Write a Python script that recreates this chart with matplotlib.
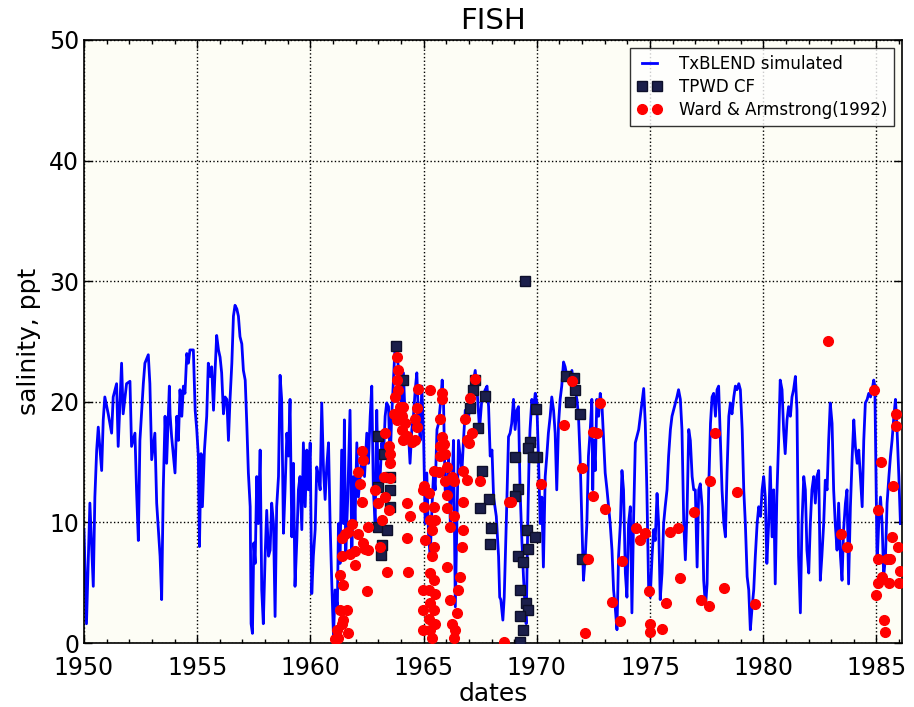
import matplotlib
matplotlib.use("Agg")
import matplotlib.pyplot as plt
from matplotlib.ticker import MultipleLocator

# ---------------------------------------------------------
# TxBLEND simulated salinity (decimal year, ppt)
# ---------------------------------------------------------
sim_year = [
    1950.00, 1950.11, 1950.26, 1950.41, 1950.48, 1950.56, 1950.63, 1950.78, 1950.85, 1950.92,
    1951.07, 1951.22, 1951.29, 1951.44, 1951.51, 1951.66, 1951.73, 1951.88, 1952.03, 1952.10,
    1952.25, 1952.32, 1952.40, 1952.47, 1952.62, 1952.69, 1952.84, 1952.91, 1952.99, 1953.13,
    1953.21, 1953.36, 1953.43, 1953.50, 1953.58, 1953.65, 1953.77, 1953.80, 1953.87, 1954.02,
    1954.10, 1954.17, 1954.24, 1954.32, 1954.39, 1954.46, 1954.54, 1954.61, 1954.68, 1954.83,
    1954.91, 1954.98, 1955.05, 1955.10, 1955.17, 1955.23, 1955.32, 1955.42, 1955.49, 1955.57,
    1955.64, 1955.72, 1955.79, 1955.86, 1955.94, 1956.01, 1956.08, 1956.16, 1956.23, 1956.31,
    1956.38, 1956.45, 1956.53, 1956.60, 1956.67, 1956.75, 1956.82, 1956.89, 1956.97, 1957.04,
    1957.12, 1957.19, 1957.26, 1957.34, 1957.38, 1957.44, 1957.50, 1957.56, 1957.63, 1957.70,
    1957.78, 1957.85, 1957.92, 1958.00, 1958.07, 1958.15, 1958.22, 1958.29, 1958.37, 1958.44,
    1958.51, 1958.59, 1958.66, 1958.73, 1958.81, 1958.88, 1958.96, 1959.03, 1959.10, 1959.18,
    1959.25, 1959.32, 1959.40, 1959.47, 1959.54, 1959.62, 1959.69, 1959.77, 1959.84, 1959.91,
    1959.99, 1960.06, 1960.13, 1960.21, 1960.28, 1960.36, 1960.43, 1960.50, 1960.58, 1960.65,
    1960.72, 1960.80, 1960.87, 1960.94, 1961.02, 1961.09, 1961.19, 1961.24, 1961.31, 1961.38,
    1961.46, 1961.50, 1961.56, 1961.65, 1961.75, 1961.83, 1961.90, 1961.97, 1962.05, 1962.12,
    1962.27, 1962.39, 1962.49, 1962.56, 1962.64, 1962.71, 1962.78, 1962.86, 1962.93, 1963.00,
    1963.08, 1963.15, 1963.23, 1963.30, 1963.37, 1963.45, 1963.52, 1963.59, 1963.74, 1963.89,
    1964.04, 1964.11, 1964.18, 1964.26, 1964.33, 1964.40, 1964.48, 1964.55, 1964.63, 1964.70,
    1964.77, 1964.85, 1964.92, 1965.00, 1965.07, 1965.14, 1965.22, 1965.29, 1965.37, 1965.44,
    1965.51, 1965.59, 1965.66, 1965.76, 1965.82, 1965.88, 1965.95, 1966.03, 1966.10, 1966.18,
    1966.25, 1966.32, 1966.40, 1966.47, 1966.54, 1966.69, 1966.76, 1966.84, 1966.99, 1967.13,
    1967.28, 1967.38, 1967.47, 1967.57, 1967.72, 1967.80, 1967.87, 1967.94, 1968.02, 1968.09,
    1968.21, 1968.31, 1968.36, 1968.41, 1968.50, 1968.56, 1968.65, 1968.75, 1968.82, 1968.89,
    1968.97, 1969.04, 1969.12, 1969.19, 1969.26, 1969.34, 1969.41, 1969.48, 1969.53, 1969.60,
    1969.66, 1969.70, 1969.78, 1969.85, 1969.93, 1970.00, 1970.07, 1970.15, 1970.22, 1970.29,
    1970.37, 1970.44, 1970.51, 1970.59, 1970.66, 1970.74, 1970.81, 1970.88, 1970.96, 1971.03,
    1971.10, 1971.18, 1971.25, 1971.33, 1971.40, 1971.47, 1971.55, 1971.62, 1971.69, 1971.77,
    1971.84, 1971.91, 1971.99, 1972.06, 1972.14, 1972.21, 1972.28, 1972.36, 1972.43, 1972.47,
    1972.51, 1972.58, 1972.65, 1972.73, 1972.80, 1972.88, 1972.95, 1973.02, 1973.10, 1973.17,
    1973.24, 1973.32, 1973.39, 1973.46, 1973.54, 1973.61, 1973.69, 1973.76, 1973.83, 1973.91,
    1973.98, 1974.05, 1974.13, 1974.20, 1974.27, 1974.35, 1974.42, 1974.50, 1974.57, 1974.64,
    1974.72, 1974.79, 1974.86, 1974.94, 1975.01, 1975.09, 1975.16, 1975.23, 1975.31, 1975.38,
    1975.45, 1975.53, 1975.60, 1975.67, 1975.75, 1975.82, 1975.90, 1975.97, 1976.04, 1976.12,
    1976.19, 1976.26, 1976.34, 1976.41, 1976.49, 1976.56, 1976.64, 1976.71, 1976.78, 1976.86,
    1976.93, 1977.00, 1977.08, 1977.15, 1977.22, 1977.30, 1977.37, 1977.45, 1977.52, 1977.59,
    1977.67, 1977.74, 1977.81, 1977.89, 1977.96, 1978.03, 1978.11, 1978.18, 1978.26, 1978.33,
    1978.40, 1978.48, 1978.55, 1978.62, 1978.70, 1978.77, 1978.84, 1978.92, 1978.99, 1979.07,
    1979.14, 1979.21, 1979.29, 1979.36, 1979.43, 1979.51, 1979.58, 1979.65, 1979.73, 1979.80,
    1979.88, 1979.95, 1980.02, 1980.09, 1980.16, 1980.24, 1980.31, 1980.39, 1980.46, 1980.53,
    1980.60, 1980.68, 1980.75, 1980.83, 1980.90, 1980.97, 1981.05, 1981.12, 1981.20, 1981.27,
    1981.34, 1981.42, 1981.49, 1981.56, 1981.64, 1981.71, 1981.79, 1981.86, 1981.93, 1982.01,
    1982.08, 1982.15, 1982.23, 1982.30, 1982.37, 1982.45, 1982.52, 1982.59, 1982.67, 1982.74,
    1982.82, 1982.89, 1982.96, 1983.04, 1983.11, 1983.18, 1983.26, 1983.33, 1983.41, 1983.48,
    1983.55, 1983.63, 1983.70, 1983.77, 1983.85, 1983.93, 1984.00, 1984.07, 1984.15, 1984.22,
    1984.29, 1984.37, 1984.44, 1984.51, 1984.59, 1984.66, 1984.74, 1984.81, 1984.88, 1984.93,
    1984.99, 1985.03, 1985.10, 1985.18, 1985.25, 1985.32, 1985.40, 1985.47, 1985.55, 1985.62,
    1985.69, 1985.77, 1985.84, 1985.91, 1985.99, 1986.06,
]
sim_sal = [
    9.4, 1.6, 11.6, 4.7, 12.1, 16.0, 17.9, 14.3, 18.5, 20.4,
    19.0, 17.4, 20.4, 21.5, 16.3, 23.2, 19.0, 21.5, 21.7, 16.3,
    17.4, 12.7, 8.5, 16.8, 21.5, 23.2, 23.9, 21.5, 15.2, 17.4,
    11.6, 7.2, 3.6, 12.7, 18.8, 14.9, 21.3, 19.0, 17.1, 14.1,
    18.8, 16.8, 21.0, 18.8, 21.3, 20.7, 24.0, 23.2, 24.3, 24.3,
    19.3, 17.7, 15.5, 8.0, 15.7, 11.3, 16.0, 18.8, 23.2, 22.1,
    22.9, 19.3, 22.6, 25.5, 24.3, 23.7, 22.4, 19.0, 20.4, 20.2,
    16.8, 20.2, 23.2, 27.1, 28.0, 27.7, 27.1, 25.4, 24.8, 22.6,
    21.8, 18.2, 14.1, 11.3, 1.6, 0.8, 8.3, 6.6, 13.8, 9.9,
    16.0, 4.4, 1.6, 7.2, 11.0, 7.2, 7.7, 11.6, 9.9, 2.2,
    11.3, 13.8, 22.2, 20.2, 9.1, 12.7, 17.4, 15.5, 20.2, 8.8,
    14.9, 4.7, 8.5, 12.7, 13.8, 9.4, 16.6, 11.3, 16.0, 12.7,
    16.6, 4.1, 7.2, 9.4, 14.6, 13.8, 12.7, 19.9, 14.3, 11.9,
    14.6, 16.6, 9.9, 5.2, 0.5, 4.4, 3.0, 9.9, 6.6, 16.0,
    9.9, 18.5, 7.2, 12.1, 19.3, 7.2, 13.8, 9.9, 16.6, 12.1,
    15.5, 13.8, 17.4, 14.9, 18.8, 21.3, 12.7, 9.9, 19.3, 12.7,
    13.8, 16.6, 15.5, 18.8, 19.9, 19.6, 14.9, 18.8, 24.6, 22.9,
    19.3, 22.4, 18.8, 16.6, 17.4, 14.9, 17.7, 18.8, 21.0, 22.4,
    18.8, 16.8, 21.3, 17.0, 9.9, 14.1, 8.8, 7.2, 11.3, 14.1,
    12.7, 17.7, 18.2, 20.2, 21.8, 19.9, 12.7, 12.1, 15.5, 9.9,
    12.7, 16.8, 3.0, 9.9, 16.8, 14.1, 16.8, 19.3, 18.8, 21.0,
    22.6, 20.4, 17.7, 20.2, 21.0, 21.3, 19.6, 15.5, 16.0, 12.1,
    10.5, 7.2, 3.8, 3.6, 1.9, 3.8, 9.9, 17.1, 17.4, 18.2,
    20.2, 17.7, 19.3, 19.6, 12.7, 8.5, 5.5, 3.0, 1.6, 9.9,
    15.5, 17.7, 20.2, 19.3, 20.7, 19.9, 15.5, 9.9, 12.1, 6.3,
    13.8, 15.5, 17.4, 18.8, 20.4, 19.3, 17.4, 12.7, 18.2, 20.2,
    21.3, 23.3, 22.9, 22.1, 22.4, 21.8, 22.6, 21.5, 21.0, 20.2,
    18.8, 15.5, 9.9, 5.2, 7.2, 9.9, 15.5, 17.7, 20.2, 12.7,
    16.8, 14.3, 20.2, 18.8, 20.7, 19.6, 16.8, 14.1, 12.7, 11.3,
    9.9, 7.7, 4.4, 3.0, 1.1, 7.2, 9.9, 14.3, 12.7, 5.8,
    3.8, 9.9, 11.3, 2.5, 9.9, 16.6, 17.1, 17.7, 18.8, 19.9,
    21.1, 18.2, 12.7, 4.4, 3.8, 7.2, 9.4, 8.5, 12.4, 9.9,
    3.6, 5.8, 9.9, 11.3, 12.7, 15.5, 17.7, 18.8, 19.3, 19.9,
    20.4, 21.0, 20.2, 17.7, 9.9, 6.9, 11.3, 17.7, 16.8, 13.8,
    12.7, 12.7, 6.3, 12.7, 13.2, 11.3, 5.2, 3.0, 4.9, 12.7,
    18.2, 20.4, 20.7, 18.8, 21.0, 21.3, 16.8, 12.7, 9.9, 8.8,
    14.1, 18.8, 19.9, 19.0, 20.4, 21.3, 21.0, 21.5, 21.0, 17.7,
    12.7, 9.9, 5.5, 4.4, 1.1, 3.0, 4.4, 7.2, 9.9, 11.3,
    10.5, 12.7, 13.8, 12.1, 6.6, 9.9, 14.6, 8.8, 12.7, 4.9,
    12.1, 16.8, 21.8, 21.0, 17.7, 15.7, 18.5, 19.6, 18.8, 20.4,
    21.0, 22.1, 19.3, 7.2, 2.5, 9.9, 13.8, 12.7, 7.7, 5.8,
    9.9, 12.7, 13.8, 11.6, 13.8, 14.3, 5.2, 7.2, 9.9, 13.5,
    12.7, 16.8, 19.9, 18.2, 12.7, 9.9, 7.7, 11.6, 7.2, 5.2,
    9.4, 11.6, 12.7, 4.9, 11.3, 15.5, 18.5, 16.3, 14.9, 16.0,
    13.8, 11.3, 16.8, 19.9, 20.2, 20.7, 20.4, 21.0, 21.8, 21.3,
    12.7, 6.6, 9.9, 12.1, 9.9, 5.5, 7.2, 11.6, 13.8, 15.5,
    16.8, 18.8, 20.2, 17.7, 13.8, 9.9,
]

# ---------------------------------------------------------
# TPWD CF observations
# ---------------------------------------------------------
tpwd_year = [
    1963.79, 1964.11, 1963.00, 1963.27, 1963.52, 1963.52, 1963.52, 1963.00, 1962.98, 1963.38,
    1963.18, 1963.12, 1967.28, 1967.20, 1967.72, 1967.06, 1967.42, 1967.57, 1967.87, 1967.47,
    1967.97, 1967.91, 1969.96, 1969.05, 1969.71, 1969.63, 1970.00, 1969.85, 1969.19, 1969.05,
    1969.56, 1969.93, 1969.63, 1969.16, 1969.39, 1969.24, 1969.52, 1969.59, 1969.27, 1969.41,
    1969.27, 1969.49, 1971.29, 1971.62, 1971.70, 1971.48, 1971.92, 1971.99,
]
tpwd_sal = [
    24.6, 21.8, 17.2, 15.7, 13.8, 12.7, 11.3, 12.9, 9.6, 9.4,
    8.1, 7.3, 21.8, 21.0, 20.5, 19.5, 17.8, 14.3, 11.9, 11.2,
    9.5, 8.2, 19.4, 15.4, 16.7, 16.2, 15.4, 15.4, 12.8, 12.2,
    9.4, 8.8, 7.8, 7.2, 6.7, 4.4, 3.3, 2.7, 2.2, 1.1,
    0.1, 30.0, 22.1, 22.0, 21.0, 20.0, 19.0, 7.0,
]

# ---------------------------------------------------------
# Ward & Armstrong (1992) observations
# ---------------------------------------------------------
ward_year = [
    1961.24, 1961.38, 1961.61, 1961.46, 1961.68, 1961.31, 1961.16, 1961.31, 1961.46, 1961.97,
    1962.49, 1961.38, 1961.53, 1961.68, 1961.83, 1962.12, 1962.34, 1962.56, 1962.86, 1963.00,
    1963.30, 1963.23, 1963.45, 1963.37, 1963.52, 1963.15, 1963.08, 1962.56, 1962.42, 1961.97,
    1961.75, 1961.38, 1962.12, 1962.27, 1962.34, 1962.19, 1962.27, 1963.30, 1963.45, 1963.52,
    1963.52, 1963.82, 1963.89, 1963.82, 1963.89, 1963.74, 1963.67, 1963.96, 1964.11, 1964.04,
    1963.82, 1964.18, 1964.04, 1964.11, 1964.26, 1964.63, 1964.70, 1964.63, 1964.48, 1964.77,
    1964.70, 1964.26, 1964.40, 1964.26, 1964.33, 1964.99, 1964.99, 1964.99, 1964.99, 1961.09,
    1965.29, 1965.81, 1965.81, 1965.73, 1965.81, 1965.88, 1965.73, 1965.95, 1965.73, 1965.44,
    1965.66, 1966.03, 1966.25, 1966.32, 1965.95, 1965.00, 1965.22, 1966.03, 1965.00, 1965.44,
    1966.03, 1966.32, 1965.51, 1965.29, 1966.18, 1965.37, 1965.07, 1965.44, 1965.37, 1966.03,
    1965.29, 1965.44, 1965.22, 1965.51, 1965.29, 1965.44, 1965.22, 1965.51, 1965.29, 1965.37,
    1966.18, 1966.62, 1966.54, 1966.47, 1966.25, 1966.40, 1966.32, 1966.69, 1966.76, 1966.76,
    1966.76, 1966.91, 1966.99, 1966.91, 1967.13, 1966.84, 1967.06, 1967.28, 1967.50, 1968.75,
    1968.53, 1968.87, 1970.19, 1971.18, 1971.55, 1971.99, 1972.25, 1972.11, 1972.50, 1972.46,
    1972.80, 1972.65, 1973.02, 1973.76, 1973.32, 1973.66, 1974.39, 1974.57, 1974.79, 1974.94,
    1974.98, 1975.01, 1975.53, 1975.72, 1975.87, 1976.22, 1976.31, 1976.93, 1977.27, 1977.59,
    1977.67, 1977.86, 1978.26, 1978.84, 1979.65, 1982.86, 1983.43, 1983.70, 1984.91, 1985.18,
    1985.06, 1985.72, 1985.88, 1985.87, 1985.06, 1985.47, 1985.59, 1985.69, 1985.00, 1985.06,
    1985.25, 1985.55, 1985.99, 1986.03, 1985.94, 1985.32, 1985.37,
]
ward_sal = [
    0.4, 1.6, 2.7, 1.9, 0.8, 2.7, 1.1, 5.6, 4.8, 6.5,
    4.3, 8.7, 9.0, 9.2, 9.9, 9.0, 8.3, 9.6, 12.7, 11.6,
    12.1, 13.8, 11.0, 5.9, 13.7, 10.2, 8.0, 7.7, 7.8, 7.6,
    7.4, 7.2, 14.2, 15.9, 15.2, 13.2, 11.7, 17.4, 16.3, 15.7,
    14.9, 23.7, 22.6, 21.8, 21.0, 20.4, 19.0, 19.6, 19.6, 18.8,
    18.5, 18.2, 17.7, 16.8, 17.2, 18.6, 17.9, 16.8, 16.7, 21.1,
    19.5, 11.6, 10.5, 8.7, 5.9, 4.4, 2.7, 1.1, 12.7, 0.3,
    21.0, 20.7, 20.2, 18.6, 17.1, 16.5, 16.3, 15.7, 15.5, 14.3,
    14.2, 14.6, 13.8, 13.4, 13.4, 13.0, 12.4, 12.3, 11.3, 11.3,
    11.2, 10.5, 10.2, 10.2, 9.6, 9.4, 8.5, 8.0, 7.2, 6.3,
    5.8, 5.2, 4.4, 4.1, 3.3, 2.7, 2.0, 1.6, 1.1, 0.4,
    3.6, 5.5, 4.4, 2.5, 1.6, 1.1, 0.4, 8.0, 9.4, 11.7,
    14.3, 13.5, 16.6, 16.8, 17.4, 18.6, 20.3, 21.9, 13.4, 11.7,
    0.1, 11.7, 13.2, 18.1, 21.7, 14.5, 7.0, 0.8, 17.5, 12.2,
    19.9, 17.4, 11.1, 6.8, 3.4, 1.8, 9.5, 8.5, 9.1, 4.3,
    1.6, 0.9, 1.2, 3.3, 9.2, 9.5, 5.4, 10.9, 3.6, 3.1,
    13.4, 17.4, 4.6, 12.5, 3.2, 25.0, 9.0, 8.0, 21.0, 15.0,
    11.0, 13.0, 19.0, 18.0, 7.0, 7.0, 7.0, 8.8, 4.0, 5.0,
    5.5, 5.0, 5.0, 6.0, 8.0, 1.9, 0.9,
]

# ---------------------------------------------------------
# Plot
# ---------------------------------------------------------
fig = plt.figure(figsize=(9.14, 7.07), dpi=100)
ax = fig.add_axes([0.0919, 0.0905, 0.895, 0.853])
ax.set_facecolor("#fdfdf5")

ax.plot(sim_year, sim_sal, color="#0000ff", lw=2.0, label="TxBLEND simulated", zorder=2)
ax.plot(tpwd_year, tpwd_sal, ls="none", marker="s", ms=7.5, color="#1b1f4b",
        mec="#0d0f2a", label="TPWD CF", zorder=3)
ax.plot(ward_year, ward_sal, ls="none", marker="o", ms=7, color="#ff0000",
        mec="#ff0000", label="Ward & Armstrong(1992)", zorder=4)

ax.set_xlim(1950, 1986.13)
ax.set_ylim(0, 50)
ax.xaxis.set_major_locator(MultipleLocator(5))
ax.xaxis.set_minor_locator(MultipleLocator(1))
ax.yaxis.set_major_locator(MultipleLocator(10))
ax.xaxis.set_major_formatter(plt.FuncFormatter(lambda v, p: "%d" % v))

ax.tick_params(which="both", direction="in", top=True, right=True, labelsize=17)
ax.tick_params(which="major", length=6, width=1)
ax.tick_params(which="minor", length=3, width=1)
ax.tick_params(axis="x", which="major", pad=9)
for s in ax.spines.values():
    s.set_linewidth(1.2)

ax.grid(True, which="major", color="k", ls=":", lw=1)

ax.set_title("FISH", fontsize=21, pad=8)
ax.set_xlabel("dates", fontsize=18, labelpad=2)
ax.set_ylabel("salinity, ppt", fontsize=18, labelpad=6)

leg = ax.legend(loc="upper right", fontsize=12, numpoints=2, handlelength=1.5,
                handletextpad=1.0, fancybox=False, borderaxespad=0.5,
                labelspacing=0.3)
leg.get_frame().set_edgecolor("k")
leg.get_frame().set_linewidth(1)

fig.savefig("out.png", dpi=100)
